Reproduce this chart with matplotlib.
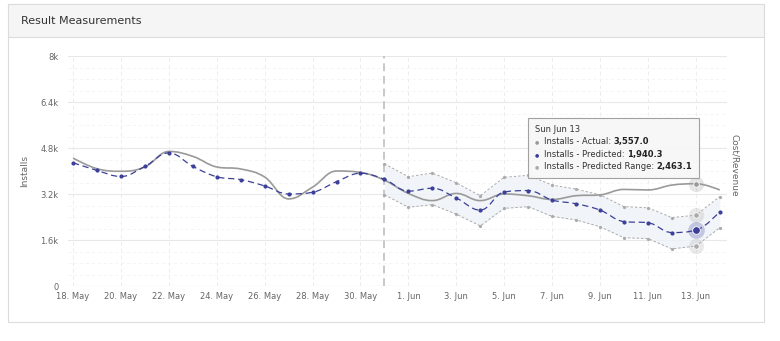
import numpy as np
import matplotlib
matplotlib.use("Agg")
import matplotlib.pyplot as plt
import matplotlib.dates as mdates
from matplotlib.path import Path
from matplotlib.patches import PathPatch, Rectangle
from matplotlib.ticker import FuncFormatter, MultipleLocator
from matplotlib.offsetbox import TextArea, HPacker, VPacker, AnnotationBbox

# daily data, 18 May .. 14 Jun
dates = np.arange('2021-05-18', '2021-06-15', dtype='datetime64[D]')
actual = [4450, 4080, 3990, 4140, 4680, 4510, 4140, 4070, 3790, 3030,
          3440, 4000, 3950, 3680, 3220, 2970, 3220, 2970, 3200, 3140,
          3010, 3140, 3170, 3360, 3340, 3510, 3557, 3340]
predicted = [4290, 4020, 3810, 4160, 4630, 4160, 3800, 3700, 3480, 3200,
             3260, 3630, 3920, 3710, 3300, 3400, 3060, 2640, 3270, 3320,
             2990, 2860, 2640, 2240, 2200, 1860, 1940, 2590]
# predicted range, 31 May .. 14 Jun
range_start = 13
range_upper = [4250, 3800, 3930, 3590, 3140, 3780, 3850, 3510, 3370, 3170,
               2760, 2720, 2380, 2463, 3110]
range_lower = [3170, 2740, 2830, 2500, 2090, 2700, 2760, 2420, 2300, 2060,
               1680, 1650, 1290, 1390, 2030]
hover_idx = 26  # Sun Jun 13
y_ticks = [0, 1600, 3200, 4800, 6400, 8000]

C_ACT = '#9a9a9a'
C_PRED = '#3b3f98'
C_RNG = '#ababab'
C_TXT = '#666666'


def spline_path(xs, ys, smoothing=1.5):
    # highcharts-like spline as cubic bezier segments
    n = len(xs)
    d = smoothing + 1
    left = [(xs[i], ys[i]) for i in range(n)]
    right = [(xs[i], ys[i]) for i in range(n)]
    for i in range(1, n - 1):
        px, py = xs[i], ys[i]
        lx, ly = xs[i - 1], ys[i - 1]
        nx, ny = xs[i + 1], ys[i + 1]
        lcx = (smoothing * px + lx) / d
        lcy = (smoothing * py + ly) / d
        rcx = (smoothing * px + nx) / d
        rcy = (smoothing * py + ny) / d
        if rcx != lcx:
            corr = (rcy - lcy) * (rcx - px) / (rcx - lcx) + py - rcy
            lcy += corr
            rcy += corr
        if lcy > ly and lcy > py:
            lcy = max(ly, py); rcy = 2 * py - lcy
        elif lcy < ly and lcy < py:
            lcy = min(ly, py); rcy = 2 * py - lcy
        if rcy > ny and rcy > py:
            rcy = max(ny, py); lcy = 2 * py - rcy
        elif rcy < ny and rcy < py:
            rcy = min(ny, py); lcy = 2 * py - rcy
        left[i] = (lcx, lcy)
        right[i] = (rcx, rcy)
    verts = [(xs[0], ys[0])]
    codes = [Path.MOVETO]
    for i in range(1, n):
        verts += [right[i - 1], left[i], (xs[i], ys[i])]
        codes += [Path.CURVE4] * 3
    return Path(verts, codes)


fig = plt.figure(figsize=(7.8, 3.41), dpi=100)
plt.rcParams['font.family'] = ['DejaVu Sans']

# card + header
fig.patches.append(Rectangle((8 / 780, 19 / 341), 756 / 780, 318 / 341, transform=fig.transFigure,
                             facecolor='white', edgecolor='#dcdcdc', lw=0.8, zorder=-2))
fig.patches.append(Rectangle((8 / 780, 1 - 37 / 341), 756 / 780, 33 / 341, transform=fig.transFigure,
                             facecolor='#f5f5f5', edgecolor='#dcdcdc', lw=0.8, zorder=-1))
fig.text(21 / 780, 1 - 21 / 341, 'Result Measurements', fontsize=8, color='#333333', va='center')

ax = fig.add_axes([68 / 780, 1 - 286 / 341, 659 / 780, 230 / 341])
ax.set_facecolor('none')

x = mdates.date2num(dates)
ax.set_xlim(x[0] - 0.21, x[-1] + 0.3)
ax.set_ylim(0, 8000)

# grid
ax.set_yticks(y_ticks)
ax.yaxis.set_minor_locator(MultipleLocator(400))
ax.grid(axis='y', which='major', color='#e8e8e8', lw=0.8)
ax.grid(axis='y', which='minor', color='#f4f4f4', lw=0.6, ls=(0, (4, 3)))
ax.set_xticks(x[:27:2])
ax.grid(axis='x', which='major', color='#ececec', lw=0.7, ls=(0, (4, 3)))
ax.set_axisbelow(True)
for s in ax.spines.values():
    s.set_visible(False)
ax.axhline(0, color='#e0e0e0', lw=0.8)

ax.yaxis.set_major_formatter(FuncFormatter(lambda v, p: '0' if v == 0 else f'{v / 1000:g}k'))
ax.xaxis.set_major_formatter(FuncFormatter(lambda v, p: f"{mdates.num2date(v).day}. {mdates.num2date(v).strftime('%b')}"))
ax.tick_params(axis='both', which='both', length=0, labelsize=6, labelcolor=C_TXT)
ax.tick_params(axis='x', pad=4)
ax.tick_params(axis='y', pad=7)
ax.set_ylabel('Installs', fontsize=6.5, color=C_TXT, labelpad=8)
fig.text(735 / 780, 1 - 165 / 341, 'Cost/Revenue', rotation=270, fontsize=6.5, color=C_TXT,
         ha='center', va='center')

# start of prediction
ax.axvline(x[range_start], color='#c8c8c8', lw=1.4, ls=(0, (4, 2.5)), zorder=2)

# predicted range
xr = x[range_start:]
ax.fill_between(xr, range_lower, range_upper, color='#eef2f7', alpha=0.8, lw=0, zorder=1)
for r in (range_upper, range_lower):
    ax.plot(xr, r, color=C_RNG, lw=0.7, ls=(0, (2.5, 2)), marker='o', ms=1.3, zorder=3)

# actual
ax.add_patch(PathPatch(spline_path(x, actual), fill=False, edgecolor=C_ACT, lw=1.2, zorder=4))

# predicted
ax.add_patch(PathPatch(spline_path(x, predicted), fill=False, edgecolor=C_PRED, lw=0.9,
                       ls=(0, (5, 3)), zorder=5))
ax.plot(x, predicted, ls='none', marker='o', ms=2, color=C_PRED, zorder=6)

# hover state at 13 Jun
hx = x[hover_idx]
ri = hover_idx - range_start
for val, col in [(actual[hover_idx], C_ACT), (range_upper[ri], C_RNG), (range_lower[ri], C_RNG)]:
    ax.plot(hx, val, 'o', ms=11, color=col, alpha=0.25, mec='none', zorder=7)
    ax.plot(hx, val, 'o', ms=4, color=col, mec='white', mew=0.6, zorder=8)
ax.plot(hx, predicted[hover_idx], 'o', ms=12, color=C_PRED, alpha=0.25, mec='none', zorder=7)
ax.plot(hx, predicted[hover_idx], 'o', ms=5.5, color=C_PRED, mec='white', mew=0.6, zorder=8)

# tooltip
tip_rows = [('Installs - Actual: ', '3,557.0', C_ACT),
            ('Installs - Predicted: ', '1,940.3', C_PRED),
            ('Installs - Predicted Range: ', '2,463.1', C_RNG)]
rows = [TextArea('Sun Jun 13', textprops=dict(fontsize=6, color='#333333'))]
for lab, val, col in tip_rows:
    rows.append(HPacker(children=[
        TextArea('\u25cf   ', textprops=dict(fontsize=3.5, color=col)),
        TextArea(lab, textprops=dict(fontsize=6, color='#333333')),
        TextArea(val, textprops=dict(fontsize=6, color='#222222', fontweight='bold'))],
        align='center', pad=0, sep=0))
box = VPacker(children=rows, align='left', pad=0, sep=2.5)
ab = AnnotationBbox(box, (535 / 780, 1 - 125 / 341), xycoords='figure fraction',
                    box_alignment=(0, 1), pad=0.5,
                    bboxprops=dict(facecolor='#f7f7f7', edgecolor='#9a9a9a', lw=0.8, alpha=0.92))
ab.set_zorder(10)
fig.add_artist(ab)

fig.savefig('out.png', dpi=100)
